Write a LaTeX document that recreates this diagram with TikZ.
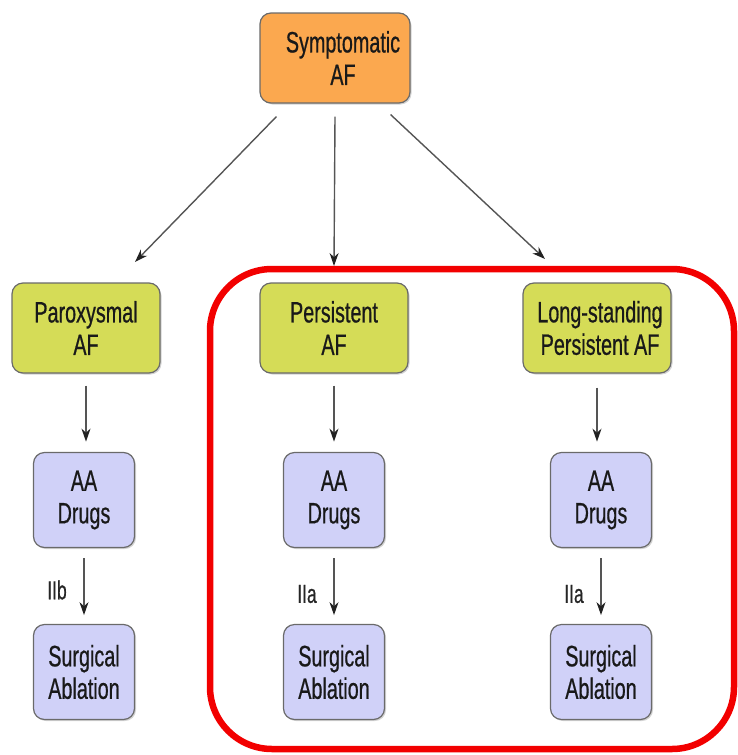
\documentclass[tikz,border=0pt]{standalone}
\usepackage{fontspec}
\setmainfont[FakeStretch=0.67,FakeBold=0.6]{Liberation Sans}
\usetikzlibrary{arrows.meta,shadows}
\definecolor{symorange}{HTML}{FBA84F}
\definecolor{typegreen}{HTML}{D5DC57}
\definecolor{treatblue}{HTML}{D0D1F8}
\definecolor{boxedge}{HTML}{6A6A6A}
\definecolor{arrowgray}{HTML}{555555}
\definecolor{headgray}{HTML}{222222}
\definecolor{groupred}{HTML}{F20000}
\begin{document}
\begin{tikzpicture}[x=1pt,y=-1pt,
  box/.style={draw=boxedge, line width=1.2pt, rounded corners=11pt,
    align=center, inner sep=0pt, text=black!90,
    font=\fontsize{29.5}{32.5}\selectfont,
    drop shadow={opacity=0.35, shadow xshift=1.5pt, shadow yshift=-1.5pt}},
  sym/.style={box, fill=symorange, minimum width=150pt, minimum height=90pt},
  kind/.style={box, fill=typegreen, minimum width=148pt, minimum height=90pt},
  treat/.style={box, fill=treatblue, minimum width=101pt, minimum height=95pt},
  flow/.style={draw=arrowgray, line width=1.4pt,
    -{Stealth[length=13pt,width=9pt,color=headgray,fill=headgray]}},
  cls/.style={font=\fontsize{26}{28}\selectfont, text=black!85}]
\useasboundingbox (0,0) rectangle (738,755);

% grouping frame around the persistent forms
\draw[groupred, line width=6.5pt, rounded corners=62pt]
  (210,269) rectangle (734,749);

% top level (text sits a little right of centre)
\node[sym] (sym) at (335,58) {\hspace*{16pt}Symptomatic\\\hspace*{16pt}AF};

% AF types
\node[kind] (par) at (86,328) {Paroxysmal\\AF};
\node[kind] (per) at (334,328) {Persistent\\AF};
\node[kind] (lsp) at (597,328) {\hspace*{6pt}Long-standing\\\hspace*{6pt}Persistent AF};

% drug therapy
\node[treat] (aa1) at (84,500) {AA\\Drugs};
\node[treat] (aa2) at (334,500) {AA\\Drugs};
\node[treat] (aa3) at (601,500) {AA\\Drugs};

% surgical ablation
\node[treat] (sa1) at (84,672) {Surgical\\Ablation};
\node[treat] (sa2) at (334,672) {Surgical\\Ablation};
\node[treat] (sa3) at (601,672) {Surgical\\Ablation};

% branches from the top box
\coordinate (t1) at (135,262);
\coordinate (t2) at (334,266);
\coordinate (t3) at (545,259);
\draw[flow] (sym.south west) ++(17,13) -- (t1);
\draw[flow] (sym.south) ++(0,13) -- (t2);
\draw[flow] (sym.south east) ++(-20,11) -- (t3);

% type to drugs
\draw[flow] (par.south) ++(0,12) -- ++(0,56);
\draw[flow] (per.south) ++(0,12) -- ++(0,56);
\draw[flow] (lsp.south) ++(0,14) -- ++(0,54);

% drugs to ablation, with recommendation class
\draw[flow] (aa1.south) ++(0,10) -- ++(0,57);
\draw[flow] (aa2.south) ++(0,10) -- ++(0,57);
\draw[flow] (aa3.south) ++(0,10) -- ++(0,57);
\node[cls] (c1) at (57,590) {IIb};
\node[cls] (c2) at (307,594) {IIa};
\node[cls] (c3) at (574,594) {IIa};
\end{tikzpicture}
\end{document}
